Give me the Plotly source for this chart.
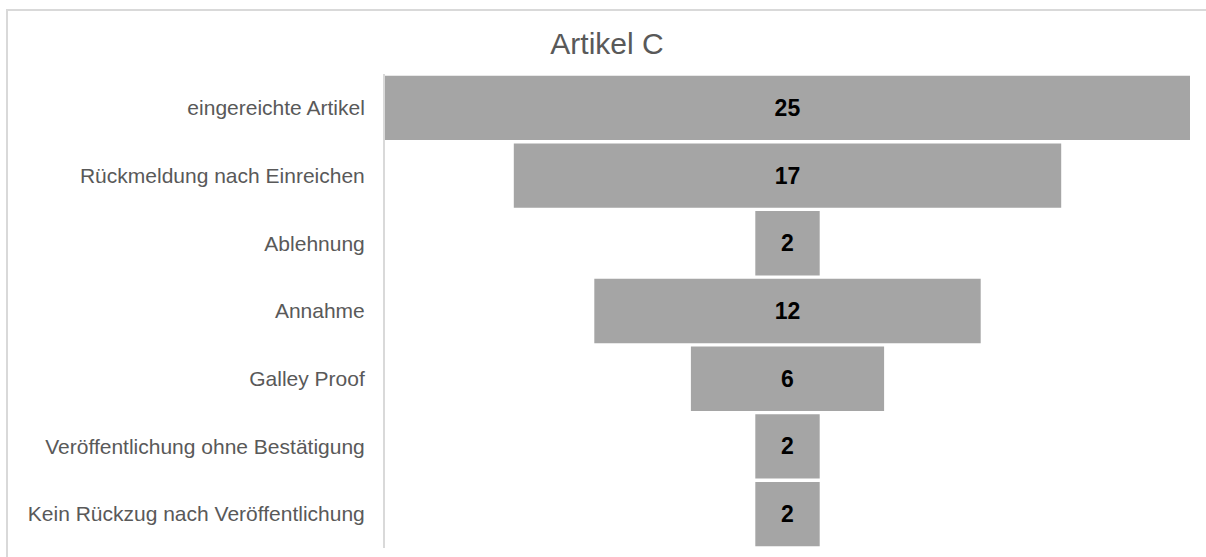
import plotly.graph_objects as go

categories = [
    "eingereichte Artikel",
    "Rückmeldung nach Einreichen",
    "Ablehnung",
    "Annahme",
    "Galley Proof",
    "Veröffentlichung ohne Bestätigung",
    "Kein Rückzug nach Veröffentlichung",
]
values = [25, 17, 2, 12, 6, 2, 2]
title_text = "Artikel C"

W, H = 1206, 557
ML, MR, MT, MB = 385, 16, 74, 9

fig = go.Figure(
    go.Funnel(
        y=categories,
        x=values,
        textinfo="value",
        textposition="inside",
        insidetextanchor="middle",
        textfont=dict(family="Liberation Sans, Arial, sans-serif", size=23, color="#000000", weight="bold"),
        marker=dict(color="#a5a5a5", line=dict(width=0)),
        connector=dict(visible=False),
        hoverinfo="y+x",
    )
)

pw = W - ML - MR
ph = H - MT - MB
def px_to_paper_x(px):
    return (px - ML) / pw
def px_to_paper_y(py):
    return 1 - (py - MT) / ph

fig.update_layout(
    width=W,
    height=H,
    margin=dict(l=ML, r=MR, t=MT, b=MB, pad=0),
    paper_bgcolor="white",
    plot_bgcolor="white",
    funnelgap=0.05,
    showlegend=False,
    font=dict(family="Liberation Sans, Arial, sans-serif", color="#595959"),
    title=dict(
        text=title_text,
        x=607 / W,
        xanchor="center",
        y=1 - 43 / H,
        yanchor="middle",
        yref="container",
        font=dict(size=30, color="#595959", family="Liberation Sans, Arial, sans-serif"),
    ),
    xaxis=dict(
        range=[-12.5, 12.5],
        showgrid=False,
        zeroline=False,
        showticklabels=False,
        showline=False,
        fixedrange=True,
    ),
    yaxis=dict(
        showgrid=False,
        zeroline=False,
        showline=True,
        linecolor="#d9d9d9",
        linewidth=2,
        ticks="",
        ticklabelstandoff=14,
        tickfont=dict(size=21, color="#595959", family="Liberation Sans, Arial, sans-serif"),
    ),
    shapes=[
        dict(
            type="rect",
            xref="paper",
            yref="paper",
            x0=px_to_paper_x(7),
            x1=px_to_paper_x(W + 20),
            y0=px_to_paper_y(H + 20),
            y1=px_to_paper_y(10),
            line=dict(color="#d9d9d9", width=2),
            fillcolor="rgba(0,0,0,0)",
            layer="below",
        )
    ],
)

fig.write_html("out.html")
